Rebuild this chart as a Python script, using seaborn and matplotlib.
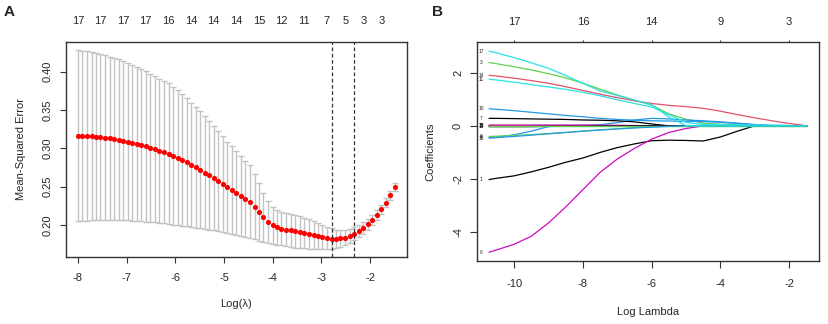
import numpy as np
import pandas as pd
import matplotlib
matplotlib.use("Agg")
import matplotlib.pyplot as plt
import seaborn as sns

# ---------------- Panel A data (cross-validation curve) ----------------
log_lambda = [-8.00, -7.91, -7.81, -7.72, -7.63, -7.54, -7.44, -7.35, -7.26, -7.16,
              -7.07, -6.98, -6.88, -6.79, -6.70, -6.61, -6.51, -6.42, -6.33, -6.23,
              -6.14, -6.05, -5.95, -5.86, -5.77, -5.68, -5.58, -5.49, -5.40, -5.30,
              -5.21, -5.12, -5.02, -4.93, -4.84, -4.75, -4.65, -4.56, -4.47, -4.37,
              -4.28, -4.19, -4.09, -4.00, -3.91, -3.82, -3.72, -3.63, -3.54, -3.44,
              -3.35, -3.26, -3.16, -3.07, -2.98, -2.89, -2.79, -2.70, -2.61, -2.51,
              -2.42, -2.33, -2.23, -2.14, -2.05, -1.96, -1.86, -1.77, -1.68, -1.58,
              -1.49]
cv_mean = [0.3165, 0.3163, 0.3160, 0.3156, 0.3151, 0.3145, 0.3138, 0.3130, 0.3121, 0.3111,
           0.3100, 0.3087, 0.3073, 0.3058, 0.3042, 0.3025, 0.3007, 0.2989, 0.2970, 0.2950,
           0.2930, 0.2903, 0.2875, 0.2846, 0.2816, 0.2785, 0.2753, 0.2720, 0.2684, 0.2647,
           0.2609, 0.2570, 0.2530, 0.2490, 0.2452, 0.2414, 0.2376, 0.2338, 0.2300, 0.2240,
           0.2172, 0.2100, 0.2040, 0.1995, 0.1968, 0.1950, 0.1938, 0.1928, 0.1918, 0.1905,
           0.1893, 0.1880, 0.1867, 0.1853, 0.1840, 0.1830, 0.1822, 0.1820, 0.1824, 0.1834,
           0.1855, 0.1885, 0.1922, 0.1963, 0.2010, 0.2065, 0.2130, 0.2205, 0.2290, 0.2385,
           0.2490]
cv_sd = [0.1115, 0.1110, 0.1104, 0.1098, 0.1091, 0.1084, 0.1076, 0.1068, 0.1059, 0.1050,
         0.1040, 0.1029, 0.1018, 0.1006, 0.0994, 0.0981, 0.0968, 0.0955, 0.0941, 0.0927,
         0.0922, 0.0901, 0.0880, 0.0858, 0.0835, 0.0812, 0.0788, 0.0763, 0.0736, 0.0709,
         0.0681, 0.0653, 0.0625, 0.0597, 0.0572, 0.0548, 0.0524, 0.0500, 0.0476, 0.0430,
         0.0376, 0.0318, 0.0272, 0.0240, 0.0225, 0.0218, 0.0216, 0.0215, 0.0213, 0.0207,
         0.0201, 0.0192, 0.0182, 0.0170, 0.0157, 0.0145, 0.0132, 0.0120, 0.0110, 0.0102,
         0.0095, 0.0088, 0.0082, 0.0077, 0.0072, 0.0068, 0.0064, 0.0061, 0.0058, 0.0055,
         0.0052]
lambda_min_log = -2.78
lambda_1se_log = -2.33
nzero_pos = [-8.00, -7.54, -7.07, -6.61, -6.14, -5.68, -5.21, -4.75, -4.28, -3.82,
             -3.35, -2.89, -2.51, -2.14, -1.77]
nzero_labels = ["17", "17", "17", "17", "16", "14", "14", "14", "15", "12",
                "11", "7", "5", "3", "3"]

# ---------------- Panel B data (coefficient paths) ----------------
path_x = [-10.73, -10.5, -10.0, -9.5, -9.0, -8.5, -8.0, -7.5, -7.0, -6.5,
          -6.0, -5.5, -5.0, -4.5, -4.0, -3.5, -3.0, -2.5, -2.0, -1.48]
coef_paths = {
    "1":  [-2.02, -1.97, -1.88, -1.73, -1.56, -1.37, -1.21, -1.00, -0.82, -0.68,
           -0.56, -0.54, -0.55, -0.57, -0.42, -0.20, 0.00, 0.00, 0.00, 0.00],
    "2":  [-0.02, -0.02, -0.02, -0.02, -0.01, -0.01, -0.01, 0.00, 0.00, 0.00,
           0.00, 0.00, 0.00, 0.00, 0.00, 0.00, 0.00, 0.00, 0.00, 0.00],
    "3":  [2.38, 2.33, 2.22, 2.10, 1.96, 1.80, 1.60, 1.38, 1.16, 0.96,
           0.78, 0.45, 0.25, 0.10, 0.06, 0.04, 0.00, 0.00, 0.00, 0.00],
    "4":  [-0.45, -0.42, -0.34, -0.20, -0.03, 0.00, 0.01, 0.04, 0.12, 0.22,
           0.28, 0.26, 0.22, 0.19, 0.15, 0.10, 0.05, 0.02, 0.01, 0.00],
    "5":  [0.00, 0.00, 0.00, 0.00, 0.00, 0.00, 0.00, 0.00, 0.00, 0.00,
           0.00, 0.00, 0.00, 0.00, 0.00, 0.00, 0.00, 0.00, 0.00, 0.00],
    "6":  [-4.75, -4.66, -4.45, -4.15, -3.65, -3.05, -2.40, -1.75, -1.25, -0.85,
           -0.50, -0.25, -0.10, 0.00, 0.00, 0.00, 0.00, 0.00, 0.00, 0.00],
    "7":  [0.28, 0.28, 0.27, 0.26, 0.25, 0.24, 0.22, 0.21, 0.19, 0.15,
           0.07, 0.00, 0.00, 0.00, 0.00, 0.00, 0.00, 0.00, 0.00, 0.00],
    "8":  [0.01, 0.01, 0.01, 0.01, 0.01, 0.01, 0.01, 0.01, 0.01, 0.00,
           0.00, 0.00, 0.00, 0.00, 0.00, 0.00, 0.00, 0.00, 0.00, 0.00],
    "9":  [-0.40, -0.39, -0.36, -0.33, -0.29, -0.25, -0.20, -0.15, -0.11, -0.07,
           -0.04, -0.01, 0.00, 0.00, 0.00, 0.00, 0.00, 0.00, 0.00, 0.00],
    "10": [0.64, 0.62, 0.57, 0.51, 0.45, 0.39, 0.34, 0.28, 0.24, 0.21,
           0.19, 0.18, 0.17, 0.16, 0.13, 0.09, 0.04, 0.00, 0.00, 0.00],
    "11": [1.75, 1.72, 1.64, 1.55, 1.46, 1.37, 1.26, 1.13, 0.98, 0.84,
           0.71, 0.42, 0.13, 0.05, 0.04, 0.035, 0.03, 0.02, 0.01, 0.00],
    "12": [0.03, 0.03, 0.03, 0.03, 0.03, 0.03, 0.03, 0.02, 0.02, 0.01,
           0.00, 0.00, 0.00, 0.00, 0.00, 0.00, 0.00, 0.00, 0.00, 0.00],
    "13": [-0.03, -0.03, -0.03, -0.03, -0.02, -0.02, -0.02, -0.01, -0.01, 0.00,
           0.00, 0.00, 0.00, 0.00, 0.00, 0.00, 0.00, 0.00, 0.00, 0.00],
    "14": [1.90, 1.87, 1.79, 1.70, 1.60, 1.47, 1.33, 1.19, 1.06, 0.94,
           0.84, 0.77, 0.72, 0.66, 0.55, 0.42, 0.30, 0.19, 0.09, 0.00],
    "15": [0.00, 0.00, 0.00, 0.00, 0.00, 0.00, 0.00, 0.00, 0.00, 0.00,
           0.00, 0.00, 0.00, 0.00, 0.00, 0.00, 0.00, 0.00, 0.00, 0.00],
    "16": [-0.46, -0.44, -0.40, -0.35, -0.30, -0.25, -0.20, -0.16, -0.12, -0.08,
           -0.05, -0.02, 0.00, 0.00, 0.00, 0.00, 0.00, 0.00, 0.00, 0.00],
    "17": [2.81, 2.74, 2.56, 2.37, 2.16, 1.89, 1.60, 1.31, 1.14, 0.97,
           0.80, 0.33, 0.01, 0.00, 0.00, 0.00, 0.00, 0.00, 0.00, 0.00],
}
top_df_pos = [-10, -8, -6, -4, -2]
top_df_labels = ["17", "16", "14", "9", "3"]

# R default palette cycled by variable index
r_pal = ["#000000", "#DF536B", "#61D04F", "#2297E6", "#28E2E5", "#CD0BBC"]

sns.set_style("white")
plt.rcParams["font.family"] = ["Liberation Sans", "DejaVu Sans"]
plt.rcParams["axes.unicode_minus"] = False

W, H = 829, 324
fig = plt.figure(figsize=(W / 100, H / 100), dpi=100)
axA = fig.add_axes([66 / W, 1 - 257 / H, 341 / W, 215 / H])
axB = fig.add_axes([477 / W, 1 - 261 / H, 342 / W, 219 / H])

spine_col = "#333333"
for ax in (axA, axB):
    for s in ax.spines.values():
        s.set_visible(True)
        s.set_color(spine_col)
        s.set_linewidth(1.0)

# ---------------- Panel A ----------------
axA.errorbar(log_lambda, cv_mean, yerr=cv_sd, fmt="none", ecolor="#C2C2C2",
             elinewidth=1.0, capsize=2.4, capthick=1.0, zorder=2)
sns.scatterplot(x=log_lambda, y=cv_mean, ax=axA, color="#FF0000", s=14,
                linewidth=0, zorder=3, legend=False)
for v in (lambda_min_log, lambda_1se_log):
    axA.axvline(v, color="#333333", lw=0.9, ls=(0, (3, 2)), zorder=4)
axA.set_xlim(-8.246, -1.24)
axA.set_ylim(0.1581, 0.4388)
axA.set_xticks([-8, -7, -6, -5, -4, -3, -2])
axA.set_xticklabels(["-8", "-7", "-6", "-5", "-4", "-3", "-2"])
axA.set_yticks([0.20, 0.25, 0.30, 0.35, 0.40])
axA.set_yticklabels(["0.20", "0.25", "0.30", "0.35", "0.40"])
axA.tick_params(axis="both", direction="out", length=4.3, width=0.8,
                color=spine_col, labelsize=8, left=True, bottom=True)
axA.tick_params(axis="x", pad=7.5)
axA.tick_params(axis="y", pad=5.5)
for t in axA.get_yticklabels():
    t.set_rotation(90)
    t.set_va("center")
axA.set_xlabel("Log(λ)", fontsize=8, labelpad=11)
axA.set_ylabel("Mean-Squared Error", fontsize=8, labelpad=12)
secA = axA.secondary_xaxis("top")
secA.set_xticks(nzero_pos)
secA.set_xticklabels(nzero_labels)
secA.tick_params(length=0, pad=11.5, labelsize=8)
secA.spines["top"].set_visible(False)

# ---------------- Panel B ----------------
rows = []
for name, vals in coef_paths.items():
    for xv, yv in zip(path_x, vals):
        rows.append({"var": name, "loglambda": xv, "coef": yv})
dfB = pd.DataFrame(rows)
pal = {name: r_pal[(int(name) - 1) % 6] for name in coef_paths}
sns.lineplot(data=dfB, x="loglambda", y="coef", hue="var", palette=pal,
             estimator=None, sort=False, lw=0.9, legend=False, ax=axB)
for name, vals in coef_paths.items():
    axB.text(-10.96, vals[0], name, fontsize=3.5, ha="center", va="center",
             color="#222222")
axB.set_xlim(-11.08, -1.13)
axB.set_ylim(-5.08, 3.15)
axB.set_xticks([-10, -8, -6, -4, -2])
axB.set_xticklabels(["-10", "-8", "-6", "-4", "-2"])
axB.set_yticks([-4, -2, 0, 2])
axB.set_yticklabels(["-4", "-2", "0", "2"])
axB.tick_params(axis="both", direction="out", length=5, width=0.8,
                color=spine_col, labelsize=8, left=True, bottom=True)
axB.tick_params(axis="x", pad=8)
axB.tick_params(axis="y", pad=5)
for t in axB.get_yticklabels():
    t.set_rotation(90)
    t.set_va("center")
axB.set_xlabel("Log Lambda", fontsize=8, labelpad=13)
axB.set_ylabel("Coefficients", fontsize=8, labelpad=13)
secB = axB.secondary_xaxis("top")
secB.set_xticks(top_df_pos)
secB.set_xticklabels(top_df_labels)
secB.tick_params(length=1.5, width=0.8, color=spine_col, pad=9.5, labelsize=8)
secB.spines["top"].set_visible(False)

fig.text(4 / W, 1 - 12 / H, "A", fontsize=11, fontweight="bold", va="center", ha="left")
fig.text(432 / W, 1 - 12 / H, "B", fontsize=11, fontweight="bold", va="center", ha="left")

fig.savefig("out.png", dpi=100, facecolor="white")
